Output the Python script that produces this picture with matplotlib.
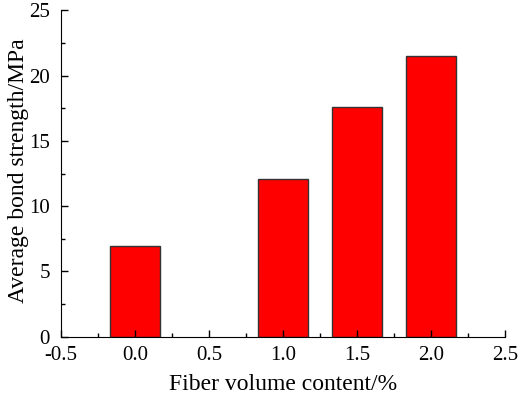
import matplotlib
matplotlib.use("Agg")
import matplotlib.pyplot as plt
from matplotlib.ticker import MultipleLocator

plt.rcParams['font.family'] = ['Liberation Serif', 'DejaVu Serif']

fiber = [0.0, 1.0, 1.5, 2.0]
strength = [6.92, 12.07, 17.61, 21.49]
xticks = [-0.5, 0.0, 0.5, 1.0, 1.5, 2.0, 2.5]
yticks = [0, 5, 10, 15, 20, 25]

fig = plt.figure(figsize=(5.19, 3.96), dpi=100)
ax = fig.add_axes([61/519, 1 - 336.7/396, (505-61)/519, (336.7-10.3)/396])
ax.bar(fiber, strength, width=1/3, color='#ff0000', edgecolor='#333333', linewidth=1.0)
ax.set_xlim(-0.5, 2.5)
ax.set_ylim(0, 25)
ax.set_xticks(xticks)
ax.set_xticklabels([f"{v:.1f}" for v in xticks])
ax.set_yticks(yticks)
ax.xaxis.set_minor_locator(MultipleLocator(0.25))
ax.yaxis.set_minor_locator(MultipleLocator(2.5))
ax.tick_params(which='both', direction='in', labelsize=15, colors='black')
ax.tick_params(which='major', length=5, width=1)
ax.tick_params(which='minor', length=3, width=1)
ax.tick_params(axis='x', which='major', pad=7)
ax.tick_params(axis='y', which='major', pad=8)
ax.spines['top'].set_visible(False)
ax.spines['right'].set_visible(False)
ax.set_xlabel('Fiber volume content/%', fontsize=17, labelpad=6)
ax.set_ylabel('Average bond strength/MPa', fontsize=17)
ax.yaxis.set_label_coords((29 - 61) / 444, (336.7 - 170.5) / 326.4)
fig.savefig('out.png', dpi=100)
